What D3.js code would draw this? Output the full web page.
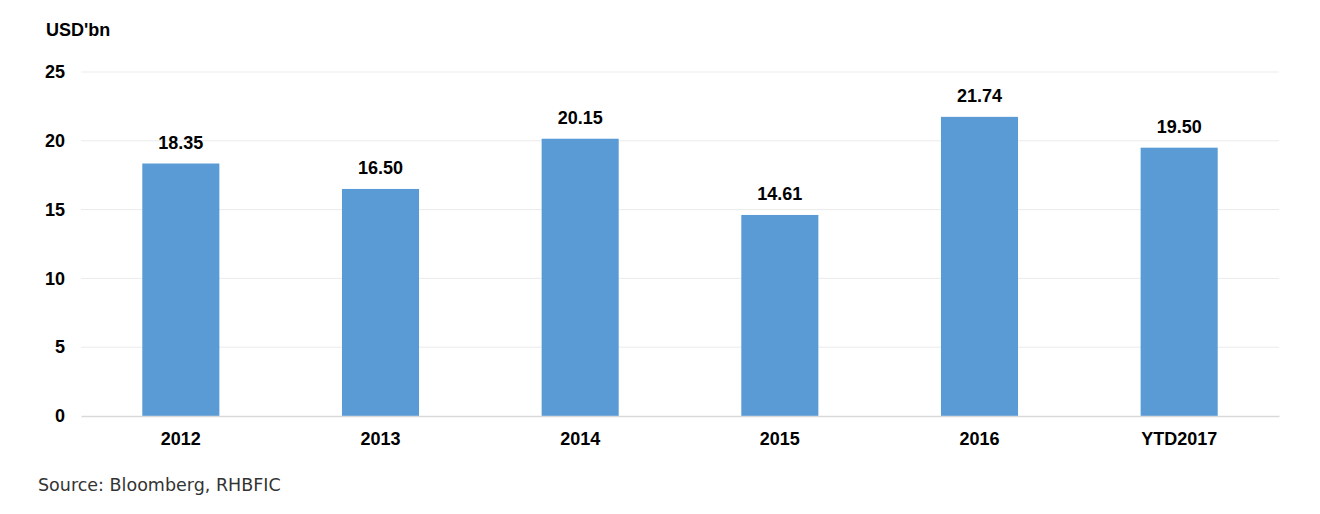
<!DOCTYPE html>
<html><head><meta charset="utf-8">
<script src="https://cdn.jsdelivr.net/npm/d3@7"></script>
<style>body{margin:0;background:#fff}</style>
</head><body>
<svg id="c" width="1320" height="514"></svg>
<script>
const categories = ["2012","2013","2014","2015","2016","YTD2017"];
const values = [18.35,16.50,20.15,14.61,21.74,19.50];
const yTicks = [0,5,10,15,20,25];

const svg = d3.select("#c");
const x = d3.scaleBand().domain(categories).range([81,1279]).paddingInner(0.614).paddingOuter(0.307);
const y = d3.scaleLinear().domain([0,25]).range([416,72]);
const font = "Liberation Sans, Arial, sans-serif";
const fs = 18;

svg.append("g").selectAll("line").data(yTicks.filter(d=>d>0)).join("line")
  .attr("x1",81).attr("x2",1279).attr("y1",d=>y(d)).attr("y2",d=>y(d))
  .attr("stroke","#ebebeb").attr("stroke-width",1);

const ya = svg.append("g").attr("transform","translate(65,0)").call(d3.axisLeft(y).tickValues(yTicks).tickSize(0).tickPadding(0));
ya.select(".domain").remove();
ya.selectAll("text").attr("font-family",font).attr("font-size",fs).attr("font-weight","bold").attr("fill","#000");

svg.append("g").selectAll("rect").data(values).join("rect")
  .attr("x",(d,i)=>x(categories[i])).attr("width",x.bandwidth())
  .attr("y",d=>y(d)).attr("height",d=>y(0)-y(d)).attr("fill","#5b9bd5");

const xa = svg.append("g").attr("transform","translate(0,416)").call(d3.axisBottom(x).tickSize(0).tickPadding(16));
xa.select(".domain").attr("stroke","#d9d9d9").attr("stroke-width",1.5);
xa.selectAll("text").attr("font-family",font).attr("font-size",fs).attr("font-weight","bold").attr("fill","#000");

svg.append("g").selectAll("text").data(values).join("text")
  .attr("x",(d,i)=>x(categories[i])+x.bandwidth()/2).attr("y",d=>y(d)-15)
  .attr("text-anchor","middle").attr("font-family",font).attr("font-size",fs).attr("font-weight","bold")
  .text(d=>d.toFixed(2));

svg.append("text").attr("x",46).attr("y",36).attr("font-family",font).attr("font-size",fs).attr("font-weight","bold").text("USD'bn");
svg.append("text").attr("x",38).attr("y",491).attr("font-family","DejaVu Sans, Verdana, sans-serif").attr("font-size",17.5).attr("fill","#333").text("Source: Bloomberg, RHBFIC");
</script>
</body></html>
